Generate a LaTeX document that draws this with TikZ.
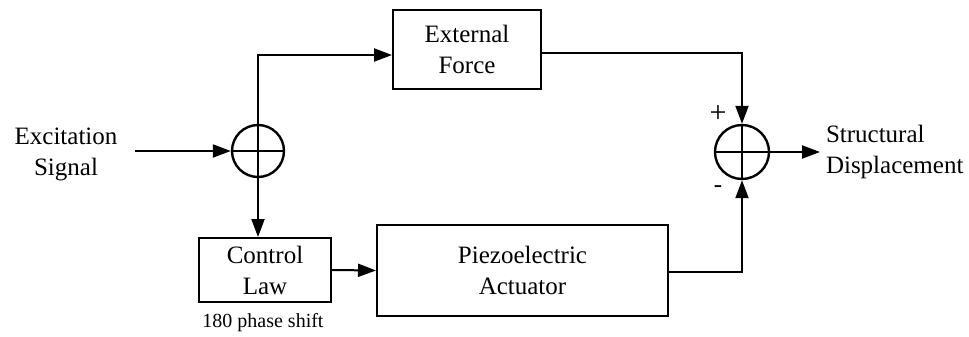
\documentclass[tikz,border=0pt]{standalone}
\usepackage{fontspec}
\setmainfont{Liberation Serif}
\usetikzlibrary{arrows.meta,calc}
\begin{document}
\begin{tikzpicture}[x=1pt,y=-1pt,
  line width=2pt,
  txt/.style={font=\fontsize{25}{31}\selectfont, align=center, inner sep=0pt},
  blk/.style={txt, draw, rectangle},
  sumj/.style={draw, circle, minimum size=#1, inner sep=0pt, line width=2.4pt,
    path picture={\draw[line width=2pt]
      (path picture bounding box.north) -- (path picture bounding box.south)
      (path picture bounding box.west) -- (path picture bounding box.east);}},
  arr/.style={-{Triangle[length=18pt,width=13pt]}},
]
\useasboundingbox (0,0) rectangle (969,337);

% summing junctions
\node[sumj=52pt] (sumL) at (258,151) {};
\node[sumj=54pt] (sumR) at (742,152) {};

% blocks
\node[blk, minimum width=148pt, minimum height=79pt] (ext) at (467,49.5) {External\\Force};
\node[blk, minimum width=132pt, minimum height=64pt] (ctrl) at (265,270) {Control\\Law};
\node[blk, minimum width=291pt, minimum height=91pt] (piezo) at (522.5,270.5) {Piezoelectric\\Actuator};

% labels
\node[txt] (exc) at (66,154) {Excitation\\Signal};
\node[txt, anchor=west, align=left] (disp) at (825,152) {Structural\\Displacement};
\node[font=\fontsize{20}{22}\selectfont, inner sep=0pt] (shift) at (263,323) {180 phase shift};
\node[font=\fontsize{30}{30}\selectfont, inner sep=0pt] (plus) at (718,114) {+};
\node[font=\fontsize{25}{25}\selectfont, inner sep=0pt] (minus) at (718,189) {-};

% free ends of the input and output arrows
\coordinate (in) at (135,151);
\coordinate (out) at (820,152);

% connectors
\draw[arr] (in) -- (sumL.west);
\draw[arr] (sumL.north) |- ([yshift=-5.5pt]ext.west);
\draw[arr] (sumL.south) -- (sumL.south |- ctrl.north);
\draw[arr] ([yshift=-3.5pt]ext.east) -| (sumR.north);
\draw[arr] (ctrl.east) -- (piezo.west);
\draw[arr] ([yshift=-1.5pt]piezo.east) -| (sumR.south);
\draw[arr] (sumR.east) -- (out);
\end{tikzpicture}
\end{document}
